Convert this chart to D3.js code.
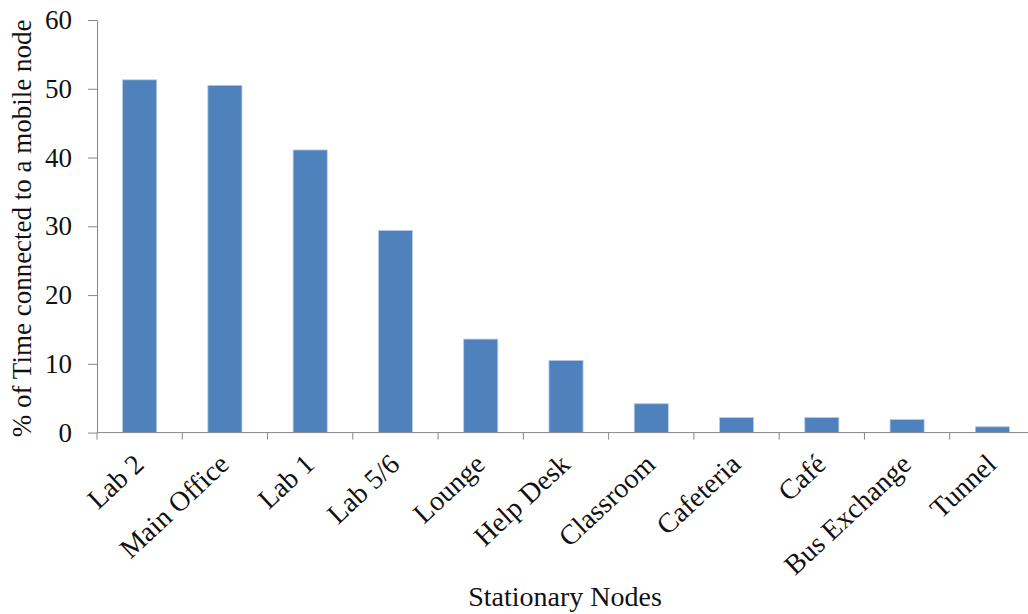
<!DOCTYPE html>
<html>
<head>
<meta charset="utf-8">
<script src="https://cdn.jsdelivr.net/npm/d3@7"></script>
<style>
  html, body { margin: 0; padding: 0; background: #fff; }
  svg { display: block; font-family: "Liberation Serif", "Times New Roman", serif; }
</style>
</head>
<body>
<svg id="chart" width="1028" height="614"></svg>
<script>
// Share of time each stationary node spent connected to a mobile node (%)
const categories = ["Lab 2", "Main Office", "Lab 1", "Lab 5/6", "Lounge", "Help Desk",
                    "Classroom", "Cafeteria", "Café", "Bus Exchange", "Tunnel"];
const values = [51.3, 50.5, 41.1, 29.4, 13.6, 10.5, 4.2, 2.2, 2.2, 1.9, 0.85];
const yTicks = [0, 10, 20, 30, 40, 50, 60];

(function draw() {
  const svg = d3.select("#chart");
  const plotLeft = 97, plotRight = 1035, plotTop = 20, plotBottom = 432.6;
  const axisColor = "#868686";
  const textColor = "#111";

  const x = d3.scaleBand()
    .domain(categories)
    .range([plotLeft, plotRight])
    .paddingInner(0.6)
    .paddingOuter(0.3);

  const y = d3.scaleLinear().domain([0, 60]).range([plotBottom, plotTop]);

  // bars
  svg.append("g").selectAll("rect")
    .data(categories.map((c, i) => ({ c, v: values[i] })))
    .join("rect")
    .attr("x", d => x(d.c))
    .attr("y", d => y(d.v))
    .attr("width", x.bandwidth())
    .attr("height", d => y(0) - y(d.v))
    .attr("fill", "#4F81BD")
    .attr("stroke", "#B9CDE5")
    .attr("stroke-width", 0.8);

  // y axis
  const yAxis = svg.append("g")
    .attr("transform", `translate(${plotLeft},0)`)
    .call(d3.axisLeft(y).tickValues(yTicks).tickSize(9).tickPadding(16).tickSizeOuter(0));
  yAxis.select(".domain").attr("stroke", axisColor);
  yAxis.selectAll(".tick line").attr("stroke", axisColor);
  yAxis.selectAll(".tick text")
    .attr("fill", textColor)
    .style("font-size", "27px")
    .style("font-family", "Liberation Serif, serif");

  // x axis: line plus ticks at the category boundaries
  const step = x.step();
  const boundaries = d3.range(categories.length + 1).map(i => plotLeft + i * step);
  const xg = svg.append("g");
  xg.append("line")
    .attr("x1", plotLeft).attr("x2", plotRight)
    .attr("y1", plotBottom).attr("y2", plotBottom)
    .attr("stroke", axisColor);
  xg.selectAll("line.tk")
    .data(boundaries)
    .join("line")
    .attr("class", "tk")
    .attr("x1", d => d).attr("x2", d => d)
    .attr("y1", plotBottom).attr("y2", plotBottom + 7)
    .attr("stroke", axisColor);

  // rotated category labels
  xg.selectAll("text")
    .data(categories)
    .join("text")
    .attr("transform", d => `translate(${x(d) + x.bandwidth() / 2 - 8},${plotBottom + 19}) rotate(-43)`)
    .attr("text-anchor", "end")
    .attr("dy", "0.72em")
    .attr("fill", textColor)
    .style("font-size", "28px")
    .text(d => d);

  // axis titles
  svg.append("text")
    .attr("x", 565).attr("y", 606)
    .attr("text-anchor", "middle")
    .attr("fill", textColor)
    .style("font-size", "28px")
    .text("Stationary Nodes");

  svg.append("text")
    .attr("transform", `translate(31,${(plotTop + plotBottom) / 2 + 2}) rotate(-90)`)
    .attr("text-anchor", "middle")
    .attr("fill", textColor)
    .style("font-size", "27px")
    .text("% of Time connected to a mobile node");
})();
</script>
</body>
</html>
